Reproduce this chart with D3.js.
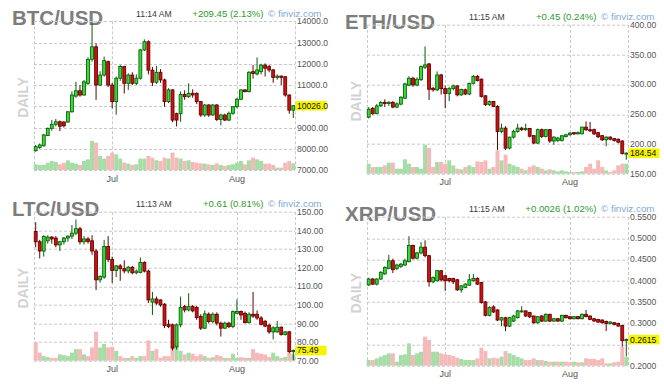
<!DOCTYPE html>
<html><head><meta charset="utf-8">
<script src="https://cdn.jsdelivr.net/npm/d3@7"></script>
<style>html,body{margin:0;padding:0;background:#fff;overflow:hidden}svg{display:block;font-family:"Liberation Sans",Arial,sans-serif}</style>
</head><body><svg id="c" width="664" height="385"></svg>
<script>
// ---- shared axis data ----
const firstDay = new Date(Date.UTC(2019, 5, 12));
const lastDay = new Date(Date.UTC(2019, 7, 15));
const monthStarts = [new Date(Date.UTC(2019, 6, 1)), new Date(Date.UTC(2019, 7, 1))];
const monthLabels = ["Jul", "Aug"];

// ---- BTC/USD ----
const btcOpen  = [7910,8060,8140,8620,8960,9150,9270,9260,9260,9740,10480,10730,10530,11080,12210,12800,11000,11470,12100,11000,10220,11320,11870,11080,11470,11080,11320,12650,13040,11700,11130,11600,11240,10220,10770,9650,9650,10560,10450,10610,10610,10220,9590,10060,9590,10060,9380,9590,9350,9670,9980,10330,10770,10690,11630,11520,11630,11940,11865,11710,11360,11420,11390,10530,9817];
const btcHigh  = [8180,8250,8700,9000,9350,9400,9330,9300,9780,10700,11150,11000,11240,12300,13900,12960,11650,12340,12150,11100,11400,11950,11900,11550,11600,11500,12700,13150,13100,11850,11900,11750,11300,10850,10800,9700,10700,10750,11080,10800,10650,10250,10100,10100,10100,10100,9650,9650,9750,10000,10400,10800,10800,11650,11940,12300,12000,12020,11950,11760,11500,11450,11420,10560,10060];
const btcLow   = [7860,8000,8100,8600,8850,9050,8830,9000,9220,9700,10400,10450,10500,11000,12100,10300,10950,11400,10900,9900,9600,11200,10600,10770,11000,11000,11250,12600,11500,10950,11050,11100,9980,10150,9250,9050,9270,10300,10400,10400,10100,9500,9500,9500,9550,9300,9100,9300,9300,9600,9900,10300,10650,10650,11300,11450,11500,11400,11600,11110,11250,11000,10450,9650,9450];
const btcClose = [8100,8180,8650,8960,9150,9270,9060,9080,9740,10530,10730,10530,11150,12210,12800,11000,11470,12150,11000,10220,11320,11870,11080,11470,11080,11320,12650,13040,11700,11130,11600,11240,10220,10770,9350,9350,10560,10450,10610,10530,10220,9590,10060,9590,10060,9380,9590,9350,9670,9980,10330,10770,10690,11600,11540,11710,11940,11790,11710,11360,11420,11360,10530,9817,10026];
const btcVolume = [17,15,15,22,27,24,17,22,29,22,19,15,27,32,87,82,42,34,42,52,47,34,22,19,15,17,34,34,42,37,29,27,37,34,52,37,34,27,29,24,22,20,19,17,15,20,15,12,15,17,22,27,17,29,37,32,27,19,19,15,7,7,22,27,20];
const btcTicks = [14000,13000,12000,11000,10000,9000,8000,7000];
const btcTickLabels = ["14000.0","13000.0","12000.0","11000.0","10000.0","9000.00","8000.00","7000.00"];

// ---- ETH/USD ----
const ethOpen  = [245,260,251,264,270,268,270,262,267,277,299,310.5,299,308,329,334.6,293.7,291,316,293,285,293,297.6,282.5,291,284,302,313.3,309,281,266,271.4,263,221,226.6,193,211.5,221,226.6,224,226,214,201.5,224,212.6,224,205,206,206,212.6,215.4,219,217,217.1,228.3,224,224,219,214,207,211.5,209,208,205,184.09];
const ethHigh  = [262,262,267,272,275,272,272,270,280,303,314,313,312,332,364,336,296,322,318,298,296,300,299,293,293,303,316,316,310,282,273,272,265,234,230,212,224,234,229,234,227,215,226,226,225,225,213,212,215,217,220,220,221,229,237.8,237,226,220,215,213,213,210,209,206,186];
const ethLow   = [243,249,250,262,262,264,260,260,265,276,297,296,297,306,326,274,288,289,283,260,272,290,280,281,282,282,300,305,278,264,264,262,190,218,190,191,209,219,222,222,211,200,200,210,211,202,198.7,203,204,211,214,215,216,216,222,220,215,210,205,196,206,204,201,182,173.5];
const ethClose = [258.5,251,264,269.7,268,270,262,267.4,278.6,301,310.5,299.3,308.8,330,333,292,291,316,293,285,293,297.6,282.5,291.5,284,302,313.3,306.6,280,266,271.4,263,221,226.6,193,211.5,221,226.6,224,226,213,201.5,224,212.6,224,205,211.5,210,213.8,215.4,218.2,217,219,228.3,223.8,222,217,212,207,211.5,208,206,203,184.09,184.54];
const ethVolume = [30,20,20,20,25,33,33,15,15,43,30,20,20,15,87,77,20,35,35,30,40,25,15,13,20,25,20,37,35,40,15,20,70,40,57,30,25,20,15,10,20,25,20,15,10,13,10,7,10,7,5,5,5,7,20,30,15,40,20,10,5,10,25,30,30];
const ethTicks = [400,350,300,250,200,150];
const ethTickLabels = ["400.00","350.00","300.00","250.00","200.00","150.00"];

// ---- LTC/USD ----
const ltcOpen  = [139.5,134,129,134.5,136.5,136,132.3,134,136,137,138.6,141,134,135.5,134.5,129,113.5,115,131.4,124.5,118.5,121,119.5,118.3,120.3,117.3,117.5,122.8,118.2,101.5,103.2,102.7,100.4,89.6,89.3,77.5,89.3,99.1,97.3,99.1,98.6,93.8,87.5,95,91.1,95,90.2,87.5,90.2,88.4,95.5,96.5,95.5,90.5,95,95,93,91.2,89.1,85.5,85.5,88,84.1,85.5,74.88];
const ltcHigh  = [144.5,135,137.5,137.5,137,137,134.5,136.5,137.5,143,146,142,137,136.5,137.5,130,116,135,137,126,121.5,122,124,121,121,119,125.5,123.5,119,107,104.5,103,101,92,90,90,104.5,100,106.3,100,99.5,95,97,96,96,96,91,91,91,97,103,97,96.5,96,107,97,94,92,90,88.5,91.3,88.5,86,86,76];
const ltcLow   = [131,125,126,133,133,131,129,132.5,134,135.5,137.5,132.5,132.5,133,127,108,112,114,123,111.8,115,113,117,117,116.5,116.5,117,117.5,101,94.6,100,99,87.5,87.5,75.5,76,88,96,96.5,96,92,86.5,87,90,90,89,83,87,87.5,87.5,95,92,90,90,93,92,89,88,84.5,81.5,85,83.5,83.5,74,70.2];
const ltcClose = [134,129,136.8,136.5,135.5,132.3,134,136,137,138.6,141,134,135.5,134.2,129,113.5,115.3,131.4,124.5,118.5,121,119.5,118.3,120.3,117.3,118.2,122.8,118.2,102.7,103.2,101,100,88.9,88.4,76.8,89.3,98.6,97.3,99.1,96.8,93.2,87.5,95.2,91.1,95,90.2,87.5,90.2,88.4,96.4,96.5,94.6,90.5,95,94,93,89.5,88.6,85.5,87.7,88,84.1,85.5,74.88,75.49];
const ltcVolume = [53,23,13,10,8,8,18,16,13,23,33,33,18,13,38,83,38,48,38,40,28,13,8,8,13,8,13,13,58,28,33,8,13,13,43,53,28,18,23,20,13,18,13,8,10,16,13,8,8,20,8,10,8,8,33,23,20,18,11,23,13,8,11,23,18];
const ltcTicks = [150,140,130,120,110,100,90,80,70];
const ltcTickLabels = ["150.00","140.00","130.00","120.00","110.00","100.00","90.00","80.00","70.00"];

// ---- XRP/USD ----
const xrpOpen  = [0.390,0.404,0.392,0.404,0.416,0.429,0.447,0.429,0.434,0.437,0.445,0.483,0.453,0.4655,0.479,0.459,0.3975,0.400,0.4236,0.4118,0.4054,0.4054,0.4023,0.3786,0.3841,0.3896,0.400,0.4054,0.396,0.3501,0.3185,0.3383,0.3312,0.3075,0.313,0.2933,0.305,0.313,0.327,0.329,0.325,0.317,0.301,0.317,0.305,0.321,0.305,0.3106,0.305,0.3185,0.3154,0.3106,0.3154,0.3106,0.3209,0.317,0.3106,0.309,0.3075,0.3043,0.2996,0.3012,0.2996,0.2948,0.2589];
const xrpHigh  = [0.407,0.406,0.406,0.422,0.434,0.461,0.452,0.440,0.442,0.452,0.505,0.485,0.468,0.491,0.495,0.461,0.410,0.425,0.425,0.413,0.407,0.407,0.404,0.389,0.394,0.4157,0.4157,0.408,0.397,0.352,0.340,0.342,0.333,0.315,0.315,0.315,0.320,0.331,0.340,0.330,0.327,0.318,0.317,0.319,0.323,0.322,0.312,0.312,0.320,0.320,0.317,0.317,0.317,0.323,0.3312,0.318,0.312,0.310,0.309,0.306,0.305,0.303,0.301,0.296,0.264];
const xrpLow   = [0.388,0.390,0.389,0.402,0.414,0.427,0.418,0.425,0.430,0.435,0.443,0.450,0.450,0.462,0.455,0.386,0.394,0.398,0.398,0.376,0.396,0.392,0.376,0.372,0.382,0.388,0.398,0.390,0.346,0.316,0.316,0.324,0.305,0.293,0.2814,0.291,0.303,0.311,0.325,0.315,0.312,0.299,0.299,0.303,0.303,0.303,0.303,0.303,0.303,0.311,0.309,0.309,0.309,0.309,0.314,0.307,0.304,0.301,0.299,0.2814,0.297,0.295,0.292,0.245,0.2222];
const xrpClose = [0.404,0.392,0.404,0.420,0.431,0.447,0.426,0.437,0.439,0.447,0.483,0.453,0.4655,0.479,0.459,0.3975,0.4078,0.4236,0.402,0.400,0.400,0.3975,0.3786,0.388,0.392,0.4023,0.4054,0.392,0.3486,0.3185,0.3367,0.3264,0.3075,0.313,0.2933,0.313,0.317,0.329,0.329,0.317,0.315,0.301,0.3154,0.305,0.321,0.305,0.3106,0.305,0.3185,0.313,0.3106,0.3154,0.3106,0.3209,0.3154,0.309,0.3051,0.3027,0.3012,0.2996,0.3027,0.2972,0.2933,0.2589,0.2615];
const xrpVolume = [17,17,22,27,32,37,37,12,32,34,67,32,37,42,87,77,42,42,37,34,32,29,24,20,17,17,17,22,54,44,22,24,22,27,44,37,32,27,22,17,17,22,17,17,14,12,12,12,12,12,10,12,10,10,22,20,20,17,22,7,7,10,12,57,27];
const xrpTicks = [0.55,0.50,0.45,0.40,0.35,0.30,0.25,0.20];
const xrpTickLabels = ["0.5500","0.5000","0.4500","0.4000","0.3500","0.3000","0.2500","0.2000"];

// ---- panel headers ----
const titles = ["BTC/USD","ETH/USD","LTC/USD","XRP/USD"];
const times = ["11:14 AM","11:15 AM","11:13 AM","11:15 AM"];
const changes = ["+209.45 (2.13%)","+0.45 (0.24%)","+0.61 (0.81%)","+0.0026 (1.02%)"];
const lastLabels = ["10026.0","184.54","75.49","0.2615"];

// ---- build panel table ----
const panels = [
  {o:btcOpen,h:btcHigh,l:btcLow,c:btcClose,v:btcVolume,ticks:btcTicks,tl:btcTickLabels,dom:[7000,14000],off:[0,0]},
  {o:ethOpen,h:ethHigh,l:ethLow,c:ethClose,v:ethVolume,ticks:ethTicks,tl:ethTickLabels,dom:[150,400],off:[333,3.7]},
  {o:ltcOpen,h:ltcHigh,l:ltcLow,c:ltcClose,v:ltcVolume,ticks:ltcTicks,tl:ltcTickLabels,dom:[70,150],off:[0,190.7]},
  {o:xrpOpen,h:xrpHigh,l:xrpLow,c:xrpClose,v:xrpVolume,ticks:xrpTicks,tl:xrpTickLabels,dom:[0.2,0.55],off:[333,195.7]}
];
panels.forEach((p,i)=>{p.title=titles[i];p.time=times[i];p.change=changes[i];p.last=lastLabels[i];});

const days = d3.utcDay.range(firstDay, d3.utcDay.offset(lastDay,1));
const L = 34, R = 295, T = 21.3, B = 170;
const x = d3.scaleUtc().domain([firstDay, lastDay]).range([35.7, 293.3]);

const svg = d3.select("#c");
const GREEN = "#33dd33", GREEN_D = "#0b5a0b", RED = "#d01010", RED_D = "#5e0000";
const VG = "#a6dca6", VR = "#f6b9b9";

panels.forEach(p => {
  const g = svg.append("g").attr("transform", `translate(${p.off[0]},${p.off[1]})`);
  const y = d3.scaleLinear().domain(p.dom).range([B, T]);
  const vy = d3.scaleLinear().domain([0, d3.max(p.v)]).range([0, 29]);
  const rows = days.map((d,k)=>({d, o:p.o[k], h:p.h[k], l:p.l[k], c:p.c[k], v:p.v[k]}));

  // header texts
  g.append("text").attr("x",12).attr("y",25).attr("font-size",20.5).attr("font-weight","bold")
    .attr("fill","#7d7d7d").text(p.title);
  g.append("text").attr("x",136).attr("y",16.6).attr("font-size",8.6).attr("fill","#3a3a3a").text(p.time);
  g.append("text").attr("x",263.5).attr("y",16.6).attr("font-size",9.6).attr("text-anchor","end")
    .attr("fill","#2f9a2f").text(p.change);
  g.append("text").attr("x",268).attr("y",16.6).attr("font-size",9.8).attr("fill","#7fa9d4").text("\u00a9 finviz.com");
  // DAILY
  g.append("text").attr("transform","translate(28,97.5) rotate(-90)").attr("text-anchor","middle")
    .attr("font-size",14).attr("font-weight","bold").attr("fill","#d2d2d2").text("DAILY");

  // grid
  const grid = g.append("g").attr("stroke","#c9c9c9").attr("stroke-width",1).attr("stroke-dasharray","3,2");
  grid.selectAll("line.h").data(p.ticks).join("line").attr("class","h")
    .attr("x1",L).attr("x2",R).attr("y1",d=>Math.round(y(d))+0.5).attr("y2",d=>Math.round(y(d))+0.5);
  const vlines = [L, ...monthStarts.map(d=>x(d)), R];
  grid.selectAll("line.v").data(vlines).join("line").attr("class","v")
    .attr("x1",d=>Math.round(d)+0.5).attr("x2",d=>Math.round(d)+0.5).attr("y1",T).attr("y2",B);

  // month labels
  g.selectAll("text.m").data(monthStarts).join("text").attr("class","m")
    .attr("x",d=>x(d)).attr("y",181.5).attr("text-anchor","middle").attr("font-size",9).attr("fill","#555")
    .text((d,k)=>monthLabels[k]);

  // volume
  g.append("g").selectAll("rect").data(rows).join("rect")
    .attr("x",d=>x(d.d)-2).attr("width",4)
    .attr("y",d=>B-vy(d.v)).attr("height",d=>vy(d.v))
    .attr("fill",d=>d.c>=d.o?VG:VR);

  // candles
  const cg = g.append("g");
  cg.selectAll("line").data(rows).join("line")
    .attr("x1",d=>x(d.d)).attr("x2",d=>x(d.d)).attr("y1",d=>y(d.h)).attr("y2",d=>y(d.l))
    .attr("stroke",d=>d.c>=d.o?GREEN_D:RED_D).attr("stroke-width",1);
  cg.selectAll("rect").data(rows).join("rect")
    .attr("x",d=>x(d.d)-1.45).attr("width",2.9)
    .attr("y",d=>Math.min(y(d.o),y(d.c))).attr("height",d=>Math.max(1,Math.abs(y(d.o)-y(d.c))))
    .attr("fill",d=>d.c>=d.o?GREEN:RED).attr("stroke",d=>d.c>=d.o?GREEN_D:RED_D).attr("stroke-width",0.85);

  // y labels (a label under the current-price box is hidden, as in the reference)
  const lastY = y(p.c[p.c.length-1]);
  const shown = p.ticks.map((d,k)=>({d,k})).filter(t=>Math.abs(y(t.d)-lastY)>6);
  g.selectAll("text.y").data(shown).join("text").attr("class","y")
    .attr("x",297).attr("y",t=>y(t.d)).attr("dy","0.35em").attr("font-size",8.6).attr("fill","#555")
    .text(t=>p.tl[t.k]);
  // current price box
  g.append("rect").attr("x",295.5).attr("y",lastY-4.8).attr("width",31).attr("height",9.6).attr("fill","#f5f500");
  g.append("text").attr("x",297).attr("y",lastY).attr("dy","0.35em").attr("font-size",8.6).attr("fill","#111").text(p.last);
});
</script></body></html>
